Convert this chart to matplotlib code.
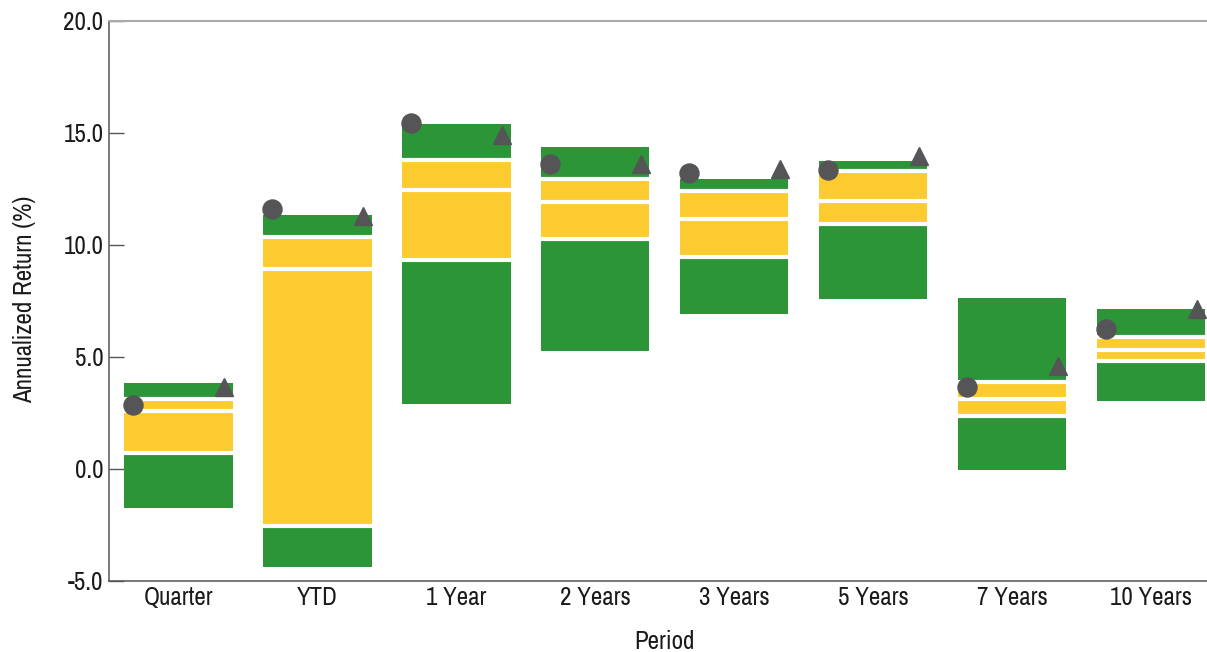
import matplotlib
matplotlib.use("Agg")
import matplotlib.pyplot as plt
import numpy as np
from matplotlib.ticker import FormatStrFormatter

plt.rcParams['font.family'] = ['Archivo Narrow', 'Liberation Sans', 'DejaVu Sans']
plt.rcParams['axes.unicode_minus'] = False

categories = ["Quarter", "YTD", "1 Year", "2 Years", "3 Years", "5 Years", "7 Years", "10 Years"]
p95 = [3.85, 11.35, 15.38, 14.37, 12.95, 13.73, 7.64, 7.15]
p75 = [3.13, 10.35, 13.80, 12.92, 12.40, 13.31, 3.89, 5.87]
p50 = [2.60, 8.91, 12.45, 11.93, 11.14, 11.97, 3.11, 5.31]
p25 = [0.73, -2.54, 9.32, 10.28, 9.45, 10.92, 2.35, 4.81]
p05 = [-1.75, -4.38, 2.91, 5.26, 6.93, 7.60, -0.04, 3.01]
portfolio = [2.87, 11.61, 15.44, 13.62, 13.22, 13.36, 3.65, 6.24]
benchmark = [3.64, 11.28, 14.88, 13.59, 13.38, 13.98, 4.61, 7.13]

GREEN = "#2b9538"
YELLOW = "#fccb2f"
MARK = "#555558"
FS = 18

fig = plt.figure(figsize=(12.07, 6.52), dpi=100)
ax = fig.add_axes([109/1207, 71/652, 1111.5/1207, 560.3/652])

x = np.arange(len(categories))
w = 0.78
p95a, p75a, p50a, p25a, p05a = map(np.array, (p95, p75, p50, p25, p05))

ax.bar(x, p25a - p05a, bottom=p05a, width=w, color=GREEN, zorder=2)
ax.bar(x, p50a - p25a, bottom=p25a, width=w, color=YELLOW, zorder=2)
ax.bar(x, p75a - p50a, bottom=p50a, width=w, color=YELLOW, zorder=2)
ax.bar(x, p95a - p75a, bottom=p75a, width=w, color=GREEN, zorder=2)

for vals in (p25a, p50a, p75a):
    ax.hlines(vals, x - w/2, x + w/2, colors="white", linewidth=3, zorder=3)

ax.plot(x - 0.325, portfolio, linestyle="none", marker="o", markersize=13.7,
        color=MARK, zorder=4)
ax.plot(x + 0.33, benchmark, linestyle="none", marker="^", markersize=13.5,
        color=MARK, zorder=4)

ax.set_xlim(-0.5, 7.5)
ax.set_ylim(-5, 20)
ax.set_yticks([-5, 0, 5, 10, 15, 20])
ax.yaxis.set_major_formatter(FormatStrFormatter("%.1f"))
ax.set_xticks(x)
ax.set_xticklabels(categories)

ax.tick_params(axis="y", direction="in", length=11, width=1, color="#555555",
               labelsize=FS, labelcolor="#1a1a1a", pad=4)
ax.tick_params(axis="x", length=0, labelsize=FS, labelcolor="#1a1a1a", pad=3.5)

for s in ("left", "bottom"):
    ax.spines[s].set_color("#555555")
    ax.spines[s].set_linewidth(1.1)
ax.spines["top"].set_color("#aaaaaa")
ax.spines["top"].set_linewidth(1.5)
ax.spines["right"].set_visible(False)

ax.set_ylabel("Annualized Return (%)", fontsize=FS, color="#1a1a1a")
ax.set_xlabel("Period", fontsize=FS, color="#1a1a1a")
ax.yaxis.set_label_coords(-0.066, 0.503)
ax.xaxis.set_label_coords(0.4995, -0.087)

fig.savefig("out.png", dpi=100)
